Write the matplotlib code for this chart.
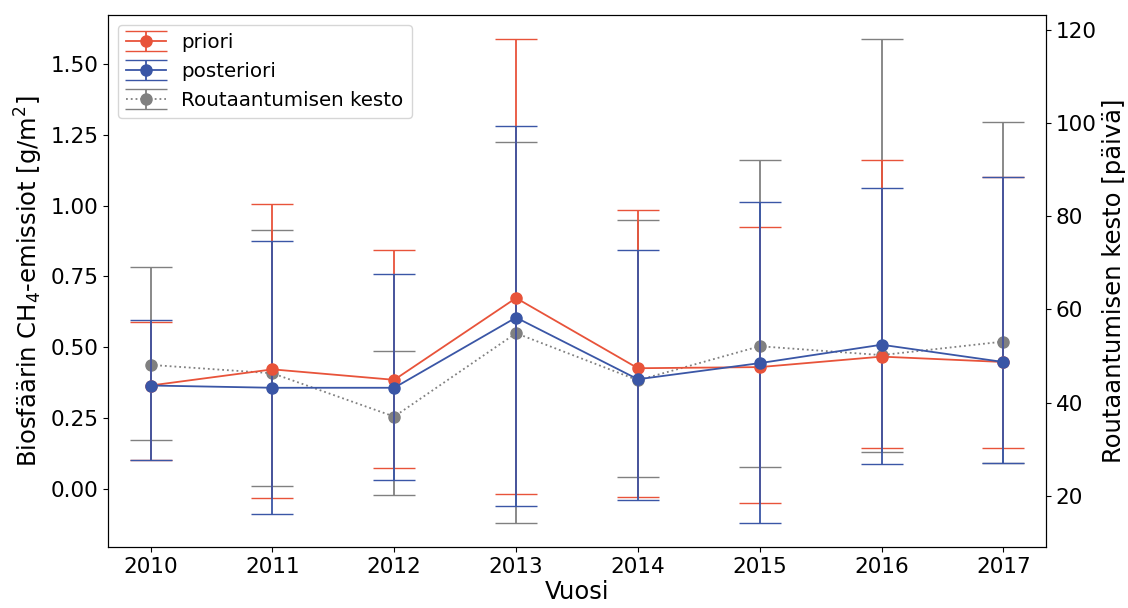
import numpy as np
import matplotlib.pyplot as plt

# data
years = [2010, 2011, 2012, 2013, 2014, 2015, 2016, 2017]

priori = [0.365, 0.422, 0.385, 0.674, 0.426, 0.430, 0.467, 0.448]
priori_low = [0.101, -0.034, 0.074, -0.018, -0.027, -0.049, 0.146, 0.144]
priori_high = [0.590, 1.007, 0.845, 1.588, 0.986, 0.924, 1.161, 1.102]

posteriori = [0.365, 0.357, 0.357, 0.605, 0.387, 0.444, 0.509, 0.448]
posteriori_low = [0.101, -0.089, 0.033, -0.062, -0.041, -0.120, 0.087, 0.093]
posteriori_high = [0.595, 0.877, 0.759, 1.282, 0.844, 1.014, 1.063, 1.102]

kesto = [48.1, 46.3, 37.0, 54.9, 44.8, 52.1, 50.2, 53.1]
kesto_low = [32.0, 22.0, 20.1, 14.2, 24.1, 26.2, 29.3, 27.1]
kesto_high = [69.1, 77.0, 51.1, 96.0, 79.1, 92.0, 118.0, 100.2]

red = '#e8533a'
blue = '#3a56a6'
grey = 'grey'

plt.rcParams['font.size'] = 15.5

fig = plt.figure(figsize=(11.28, 6.08), dpi=100)
ax = fig.add_axes([0.0957, 0.1003, 0.8316, 0.875])
ax2 = ax.twinx()
ax.set_zorder(ax2.get_zorder() + 1)
ax.patch.set_visible(False)


def yerr(vals, low, high):
    vals = np.array(vals)
    return [vals - np.array(low), np.array(high) - vals]


h3 = ax2.errorbar(years, kesto, yerr=yerr(kesto, kesto_low, kesto_high),
                  color=grey, marker='o', markersize=8, linestyle=':',
                  linewidth=1.3, elinewidth=1.3, capsize=15,
                  label='Routaantumisen kesto')
h1 = ax.errorbar(years, priori, yerr=yerr(priori, priori_low, priori_high),
                 color=red, marker='o', markersize=8, linewidth=1.3,
                 elinewidth=1.3, capsize=15, label='priori')
h2 = ax.errorbar(years, posteriori, yerr=yerr(posteriori, posteriori_low, posteriori_high),
                 color=blue, marker='o', markersize=8, linewidth=1.3,
                 elinewidth=1.3, capsize=15, label='posteriori')

ax.set_xlabel('Vuosi', fontsize=17.5, labelpad=2)
ax.set_ylabel('Biosfäärin CH$_4$-emissiot [g/m$^2$]', fontsize=17.5)
ax2.set_ylabel('Routaantumisen kesto [päivä]', fontsize=17.5)
ax.set_xticks(years)
ax.set_yticks([0.0, 0.25, 0.5, 0.75, 1.0, 1.25, 1.5])
ax2.set_yticks([20, 40, 60, 80, 100, 120])

ax.legend([h1, h2, h3], ['priori', 'posteriori', 'Routaantumisen kesto'],
          loc='upper left', fontsize=14.3)

fig.savefig('out.png', dpi=100)
